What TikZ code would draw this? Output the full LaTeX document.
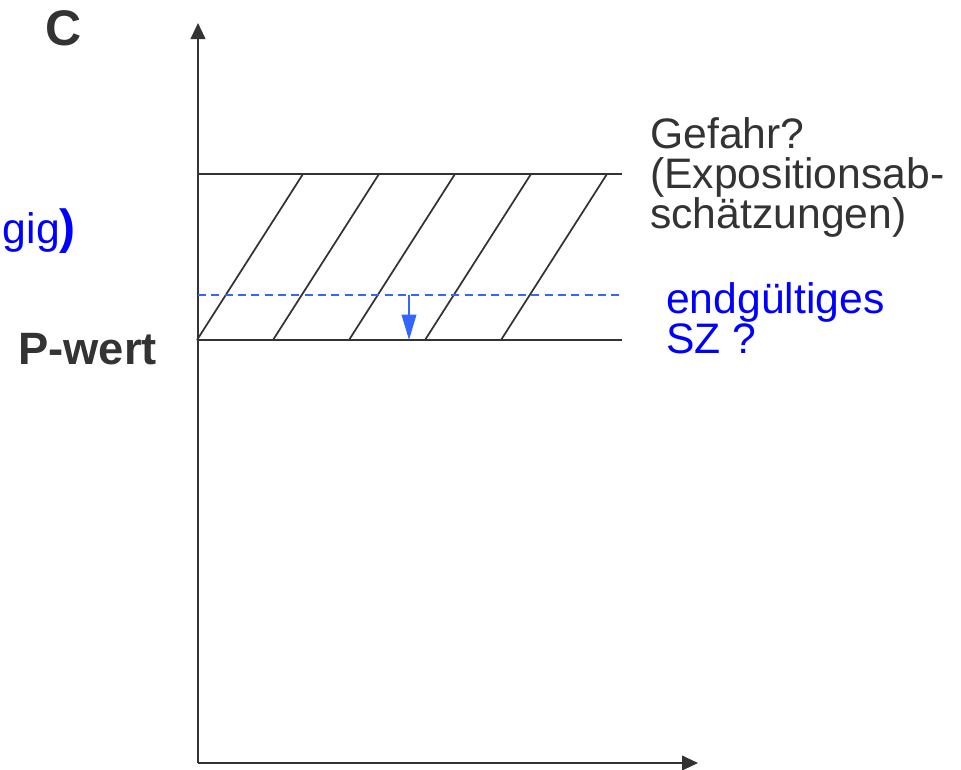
\documentclass[tikz,border=0pt]{standalone}
\usepackage{fontspec}
\setmainfont{Liberation Sans}
\usetikzlibrary{arrows.meta}
\definecolor{ink}{HTML}{333333}
\definecolor{txtblue}{HTML}{0000FF}
\definecolor{lineblue}{HTML}{3366FF}
\tikzset{
  axisline/.style={draw=ink, line width=1.5pt, -{Triangle[length=12pt,width=11pt]}},
  bandline/.style={draw=ink, line width=1.5pt},
  hatchline/.style={draw=ink, line width=1.3pt},
  dashline/.style={draw=lineblue, line width=1.1pt, dash pattern=on 6pt off 4pt},
  bluearrow/.style={draw=lineblue, fill=lineblue, line width=1.1pt, -{Triangle[length=19pt,width=11pt]}},
  graytxt/.style={inner sep=0pt, anchor=base west, text=ink, font=\fontsize{32}{30}\selectfont},
  bluetxt/.style={inner sep=0pt, anchor=base west, text=txtblue, font=\fontsize{32}{30}\selectfont},
  boldtxt/.style={inner sep=0pt, text=ink, font=\fontsize{34}{34}\selectfont\bfseries},
}
\begin{document}
\begin{tikzpicture}[x=0.75pt,y=-0.75pt]
\useasboundingbox (0,0) rectangle (961,769);
% axes
\coordinate (origin) at (198,763);
\coordinate (ytip) at (198,23);
\coordinate (xtip) at (698,763);
\draw[axisline] (origin) -- (ytip);
\draw[axisline] (origin) -- (xtip);
% band
\coordinate (bandTL) at (198,174);
\coordinate (bandTR) at (622,174);
\coordinate (bandBL) at (198,340);
\coordinate (bandBR) at (622,340);
\draw[bandline] (bandTL) -- (bandTR);
\draw[bandline] (bandBL) -- (bandBR);
\foreach \i in {0,...,4}{
  \coordinate (hb\i) at ({197+76*\i},340);
  \coordinate (ht\i) at ({303+76*\i},174);
  \draw[hatchline] (hb\i) -- (ht\i);
}
% dashed line and arrow
\coordinate (dashL) at (198,295);
\coordinate (dashR) at (622,295);
\draw[dashline] (dashL) -- (dashR);
\coordinate (arrS) at (409,295);
\coordinate (arrE) at (409,340);
\draw[bluearrow] (arrS) -- (arrE);
% labels
\node[boldtxt, anchor=base, font=\fontsize{37.5}{37.5}\selectfont\bfseries] (cLabel) at (64,45) {C};
\node[boldtxt, anchor=base west] (pLabel) at (18,364) {P-wert};
\node[inner sep=0pt, anchor=base east, text=txtblue, font=\fontsize{32}{32}\selectfont] (gigLabel) at (76,243) {gig{\fontsize{36}{36}\selectfont\bfseries)}};
\node[graytxt] (g1) at (650,148) {Gefahr?};
\node[graytxt] (g2) at (650,188) {(Expositionsab-};
\node[graytxt] (g3) at (650,228) {schätzungen)};
\node[bluetxt] (e1) at (666,313) {endgültiges};
\node[bluetxt] (e2) at (666,353) {SZ ?};
\end{tikzpicture}
\end{document}
